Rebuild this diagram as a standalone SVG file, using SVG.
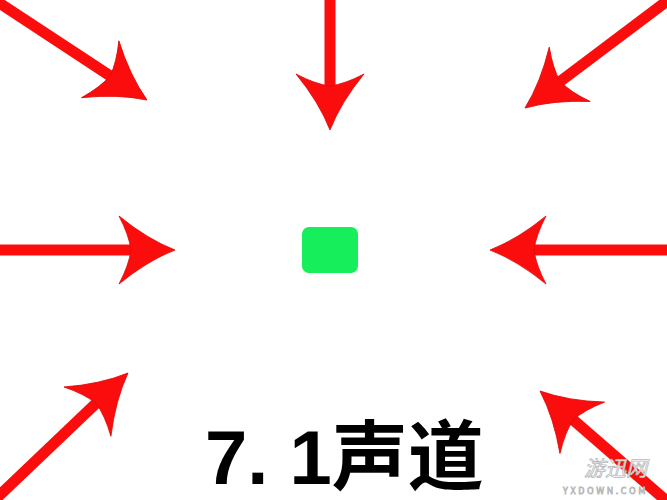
<svg xmlns="http://www.w3.org/2000/svg" width="667" height="500" viewBox="0 0 667 500">
<style>
.shaft{stroke:#fc0d0d;stroke-width:11;fill:none}
.head{fill:#fc0d0d;stroke:#e00808;stroke-width:0.8}
.title{font-family:"Liberation Sans","Noto Sans CJK SC",sans-serif;font-weight:bold;font-size:76px;fill:#000}
.wm{font-family:"Noto Sans CJK SC","Liberation Sans",sans-serif;fill:#fff;stroke:#b8b8b8;stroke-width:0.8}
</style>
<defs>
<g id="arrow">
<line class="shaft" x1="-320" y1="0" x2="-40" y2="0"/>
<path class="head" d="M0,0 Q-28,-11 -56,-34 Q-46,-15 -44,0 Q-46,15 -56,34 Q-28,11 0,0 Z"/>
</g>
</defs>
<rect width="667" height="500" fill="#fff"/>
<g id="connectors">
<use href="#arrow" transform="translate(330,130) rotate(90)"/>
<use href="#arrow" transform="translate(147,100) rotate(33.3)"/>
<use href="#arrow" transform="translate(525,108) rotate(143)"/>
<use href="#arrow" transform="translate(175,250)"/>
<use href="#arrow" transform="translate(490,250) rotate(180)"/>
<use href="#arrow" transform="translate(128,373) rotate(-43.6)"/>
<use href="#arrow" transform="translate(540,391) rotate(-139)"/>
</g>
<g id="listener">
<rect x="302" y="227" width="56" height="46" rx="7" fill="#16ee5b"/>
</g>
<g id="title">
<text class="title" x="205" y="484">7. 1声道</text>
</g>
<g id="watermark">
<text class="wm" x="584" y="476" font-size="21" font-style="italic">游迅网</text>
<text class="wm" x="563" y="494" font-size="9" letter-spacing="2.6" stroke-width="0.5">YXDOWN.COM</text>
</g>
</svg>
